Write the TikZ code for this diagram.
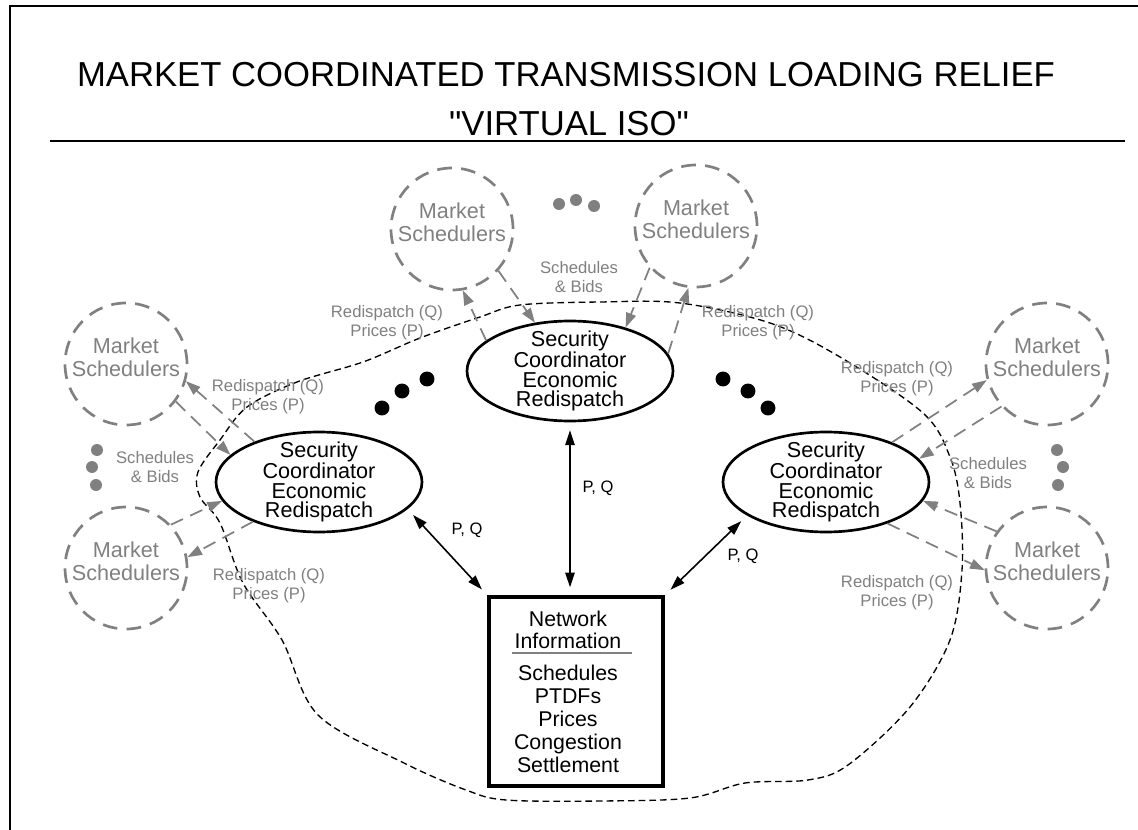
\documentclass[tikz,border=0pt]{standalone}
\usepackage{fontspec}
\setmainfont{Liberation Sans}
\usepackage{tikz}
\usetikzlibrary{shapes.geometric}
\usetikzlibrary{arrows.meta}
\definecolor{msgray}{RGB}{128,128,128}
\begin{document}
\begin{tikzpicture}[x=0.75pt,y=0.75pt,yscale=-1,xscale=1,
  market/.style={circle, draw=msgray, line width=2pt, dash pattern=on 11pt off 7pt, minimum size=91.5pt, inner sep=0pt},
  mstext/.style={text=msgray, align=center, inner sep=0.75pt, font=\fontsize{16.2}{17.5}\selectfont},
  secco/.style={ellipse, draw, line width=2pt, minimum width=154.5pt, minimum height=75pt, inner sep=0pt,
    label={[align=center, inner sep=0pt, font=\fontsize{16.2}{14.6}\selectfont]center:{Security\\Coordinator\\Economic\\Redispatch}}},
  flow/.style={msgray, line width=1.3pt, dash pattern=on 10pt off 6pt, -{Triangle[length=11pt,width=7.5pt]}},
  pq/.style={line width=1.2pt, {Triangle[length=11pt,width=7pt]}-{Triangle[length=11pt,width=7pt]}, shorten <=6pt, shorten >=6pt},
  note/.style={text=msgray, align=center, inner sep=0.75pt, font=\fontsize{12.5}{14.5}\selectfont},
  pqtext/.style={inner sep=0.75pt, font=\fontsize{12.4}{14}\selectfont},
  boxtext/.style={align=center, inner sep=0.75pt, font=\fontsize{16}{17.2}\selectfont}]
\useasboundingbox (0,0) rectangle (1138,830);
% frame and title
\draw[line width=1.2pt] (10,830) -- (10,6) -- (1138,6);
\draw (566,87) node [anchor=base] [inner sep=0pt, font=\fontsize{26}{30}\selectfont] (titleA) {MARKET COORDINATED TRANSMISSION LOADING RELIEF};
\draw (569,136) node [anchor=base] [inner sep=0pt, font=\fontsize{26}{30}\selectfont] (titleB) {\textquotedbl VIRTUAL ISO\textquotedbl};
\draw[line width=1.5pt] (50,141) -- (1125,141);
% dashed boundary
\draw[line width=1pt, dash pattern=on 5pt off 3pt] plot[smooth cycle, tension=0.55] coordinates {(520,305) (600,302) (680,303) (770,323) (840,357) (923,413) (950,457) (960,503) (962,570) (950,640) (910,707) (848,765) (808,780) (745,783) (690,798) (600,801) (506,800) (466,790) (404,763) (318,715) (282,640) (243,583) (220,523) (200,497) (198,472) (220,440) (247,407) (297,382) (363,362) (420,338) (480,317)};
% market schedulers
\draw (126,364) node [market] (msL1) {};
\draw (126,568) node [market] (msL2) {};
\draw (452,229) node [market] (msT1) {};
\draw (696,226) node [market] (msT2) {};
\draw (1047,364) node [market] (msR1) {};
\draw (1047,568) node [market] (msR2) {};
\draw (126,357) node [mstext] (msL1t) {Market\\Schedulers};
\draw (126,561) node [mstext] (msL2t) {Market\\Schedulers};
\draw (452,222) node [mstext] (msT1t) {Market\\Schedulers};
\draw (696,219) node [mstext] (msT2t) {Market\\Schedulers};
\draw (1047,357) node [mstext] (msR1t) {Market\\Schedulers};
\draw (1047,561) node [mstext] (msR2t) {Market\\Schedulers};
% security coordinators
\draw (319,482) node [secco] (scL) {};
\draw (570,371) node [secco] (scC) {};
\draw (826,482) node [secco] (scR) {};
% network information
\draw (576,691.5) node [draw, line width=2.5pt, minimum width=130.5pt, minimum height=141.75pt, inner sep=0pt] (net) {};
\draw (568,630) node [boxtext, font=\fontsize{16}{16.3}\selectfont] (nethead) {Network\\Information};
\draw[msgray, line width=1.2pt] (512,653) -- (632,653);
\draw (568,719) node [boxtext] (netlist) {Schedules\\PTDFs\\Prices\\Congestion\\Settlement};
% dots
\fill[msgray] (97,450) circle (4.5pt) (92,467) circle (4.5pt) (96,485) circle (4.5pt);
\fill[msgray] (1057,450) circle (4.5pt) (1063,467) circle (4.5pt) (1058,485) circle (4.5pt);
\fill[msgray] (559,204) circle (4.5pt) (576,200) circle (4.5pt) (594,206) circle (4.5pt);
\fill (382,408) circle (5.6pt) (402,391) circle (5.6pt) (427,379) circle (5.6pt);
\fill (723,379) circle (5.6pt) (748,391) circle (5.6pt) (768,408) circle (5.6pt);
% gray flows
\draw[flow] (scL.148) -- (msL1.344);
\draw[flow] (msL1.323) -- (scL.163);
\draw[flow] (msL2.44) -- (scL.191);
\draw[flow] (scL.211) -- (msL2.10);
\draw[flow] (scC.160) -- (msT1.280);
\draw[flow] (msT1.318) -- (scC.126);
\draw[flow] (msT2.222) -- (scC.38);
\draw[flow] (scC.10) -- (msT2.263);
\draw[flow] (scR.31) -- (msR1.195);
\draw[flow] (msR1.223) -- (scR.14);
\draw[flow] (msR2.144) -- (scR.349);
\draw[flow] (scR.326) -- (msR2.182);
% gray labels
\draw (579,277) node [note] (sbT) {Schedules\\\& Bids};
\draw (155,467) node [note] (sbL) {Schedules\\\& Bids};
\draw (988,473) node [note] (sbR) {Schedules\\\& Bids};
\draw (387,323) node [note] (rpTL) {Redispatch (Q)\\Prices (P)};
\draw (758,323) node [note] (rpTR) {Redispatch (Q)\\Prices (P)};
\draw (268,397) node [note] (rpL1) {Redispatch (Q)\\Prices (P)};
\draw (269,586) node [note] (rpL2) {Redispatch (Q)\\Prices (P)};
\draw (897,379) node [note] (rpR1) {Redispatch (Q)\\Prices (P)};
\draw (897,593) node [note] (rpR2) {Redispatch (Q)\\Prices (P)};
% P, Q exchange
\draw[pq] (scC.south) -- (scC.south |- net.north);
\draw[pq] (scL.343) -- (net.north west);
\draw[pq] (scR.203) -- (net.north east);
\draw (598,488) node [pqtext] (pqC) {P, Q};
\draw (467,530) node [pqtext] (pqL) {P, Q};
\draw (743,556) node [pqtext] (pqR) {P, Q};
\end{tikzpicture}
\end{document}
